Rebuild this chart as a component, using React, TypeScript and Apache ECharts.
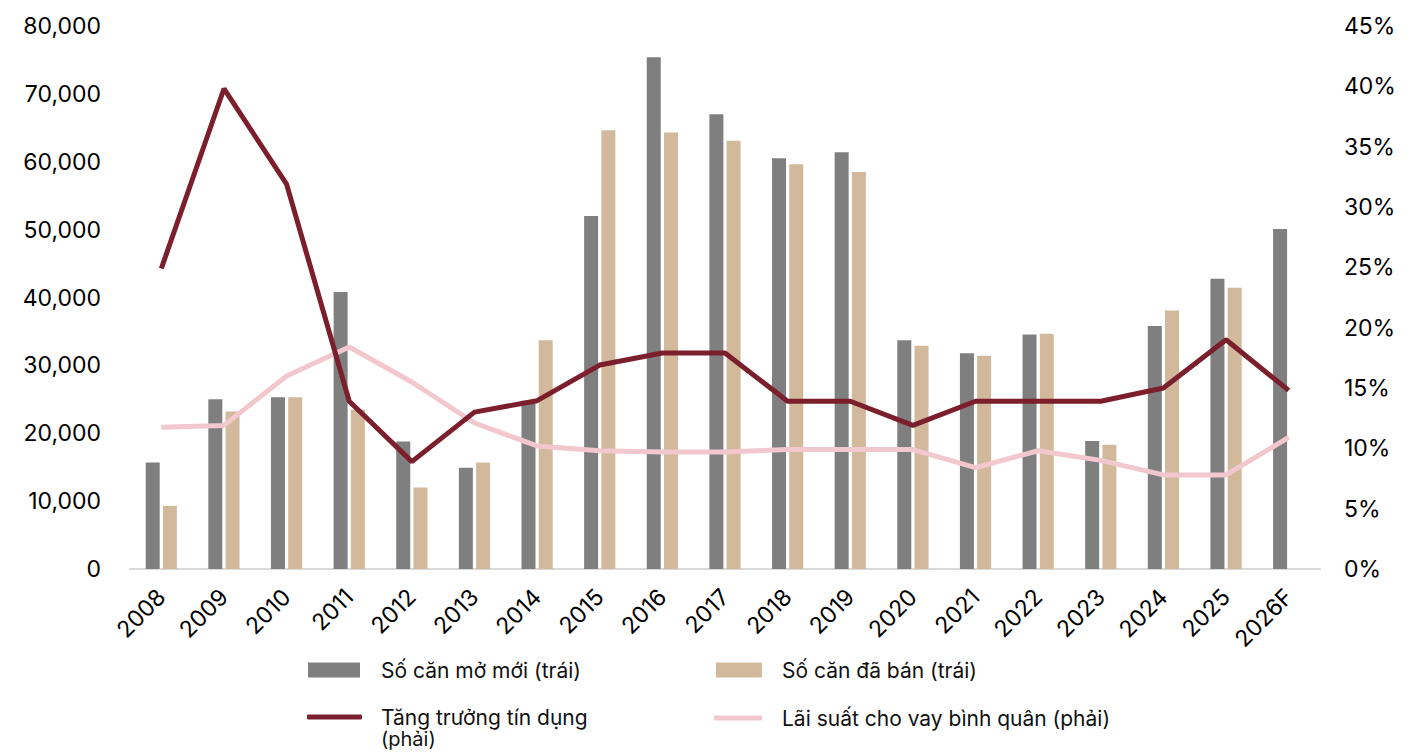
import React, { useEffect, useRef } from "react";
import * as echarts from "echarts";

const categories = ["2008","2009","2010","2011","2012","2013","2014","2015","2016","2017","2018","2019","2020","2021","2022","2023","2024","2025","2026F"];
const newUnits = [15700, 25000, 25300, 40800, 18800, 14900, 24800, 52000, 75400, 67000, 60500, 61400, 33700, 31800, 34550, 18850, 35800, 42750, 50100];
const soldUnits = [9300, 23200, 25300, 23500, 12000, 15700, 33700, 64650, 64300, 63100, 59650, 58500, 32900, 31400, 34650, 18300, 38100, 41430, null];
const creditGrowth = [24.9, 39.8, 31.9, 13.9, 8.9, 13.0, 13.95, 16.9, 17.9, 17.9, 13.9, 13.9, 11.9, 13.9, 13.9, 13.9, 15.0, 19.0, 14.8];
const lendingRate = [11.75, 11.9, 16.0, 18.4, 15.5, 12.1, 10.2, 9.8, 9.7, 9.7, 9.9, 9.9, 9.9, 8.4, 9.8, 9.0, 7.8, 7.8, 10.9];

const names = ["Số căn mở mới (trái)", "Số căn đã bán (trái)", "Tăng trưởng tín dụng (phải)", "Lãi suất cho vay bình quân (phải)"];
const creditLegendLine1 = "Tăng trưởng tín dụng";
const creditLegendLine2 = "(phải)";

const GRAY = "#7f7f7f";
const TAN = "#d3b99b";
const DARK = "#7b1f2d";
const PINK = "#f2c7ce";
const FONT = "Inter";

export default function App() {
  const ref = useRef<HTMLDivElement>(null);
  useEffect(() => {
    if (!ref.current) return;
    const chart = echarts.init(ref.current, null, { renderer: "svg" });
    const legendText = { fontFamily: FONT, fontSize: 21, color: "#111", lineHeight: 26 };
    chart.setOption({
      animation: false,
      backgroundColor: "#fff",
      grid: { left: 130, right: 100, top: 26, bottom: 184 },
      legend: [
        { data: [names[0]], left: 303, top: 652, icon: "rect", itemWidth: 52, itemHeight: 15, textStyle: { ...legendText, padding: [0, 0, 0, 16] } },
        { data: [names[1]], left: 711, top: 652, icon: "rect", itemWidth: 46, itemHeight: 15, textStyle: { ...legendText, padding: [0, 0, 0, 15] } },
        { data: [names[2]], left: 302, top: 699, icon: "roundRect", itemWidth: 55, itemHeight: 5, formatter: () => creditLegendLine1, textStyle: { ...legendText, padding: [0, 0, 0, 14] } },
        { data: [names[3]], left: 709, top: 700, icon: "roundRect", itemWidth: 48, itemHeight: 5, textStyle: { ...legendText, padding: [0, 0, 0, 15] } },
      ],
      graphic: [
        { type: "text", x: 381, y: 739, style: { text: creditLegendLine2, fontFamily: FONT, fontSize: 20, fill: "#111", verticalAlign: "middle" } },
      ],
      xAxis: {
        type: "category",
        data: categories,
        axisTick: { show: false },
        axisLine: { lineStyle: { color: "#d9d9d9", width: 2 } },
        axisLabel: { rotate: 45, margin: 24, fontFamily: FONT, fontSize: 23, color: "#000", interval: 0 },
      },
      yAxis: [
        {
          type: "value", min: 0, max: 80000, interval: 10000,
          splitLine: { show: false },
          axisLine: { show: false }, axisTick: { show: false },
          axisLabel: { margin: 29, fontFamily: FONT, fontSize: 23, color: "#000", formatter: (v: number) => v.toLocaleString("en-US") },
        },
        {
          type: "value", min: 0, max: 45, interval: 5,
          splitLine: { show: false },
          axisLine: { show: false }, axisTick: { show: false },
          axisLabel: { margin: 24, fontFamily: FONT, fontSize: 23, color: "#000", formatter: (v: number) => v + "%" },
        },
      ],
      series: [
        { name: names[0], type: "bar", data: newUnits, barWidth: 14, barGap: "23%", itemStyle: { color: GRAY } },
        { name: names[1], type: "bar", data: soldUnits, barWidth: 14, barGap: "23%", itemStyle: { color: TAN } },
        { name: names[3], type: "line", yAxisIndex: 1, data: lendingRate, symbol: "none", z: 3, lineStyle: { color: PINK, width: 5 }, itemStyle: { color: PINK } },
        { name: names[2], type: "line", yAxisIndex: 1, data: creditGrowth, symbol: "none", z: 4, lineStyle: { color: DARK, width: 5 }, itemStyle: { color: DARK } },
      ],
    });
    return () => chart.dispose();
  }, []);
  return <div ref={ref} style={{ position: "fixed", left: 0, top: 0, width: 1420, height: 753 }} />;
}
